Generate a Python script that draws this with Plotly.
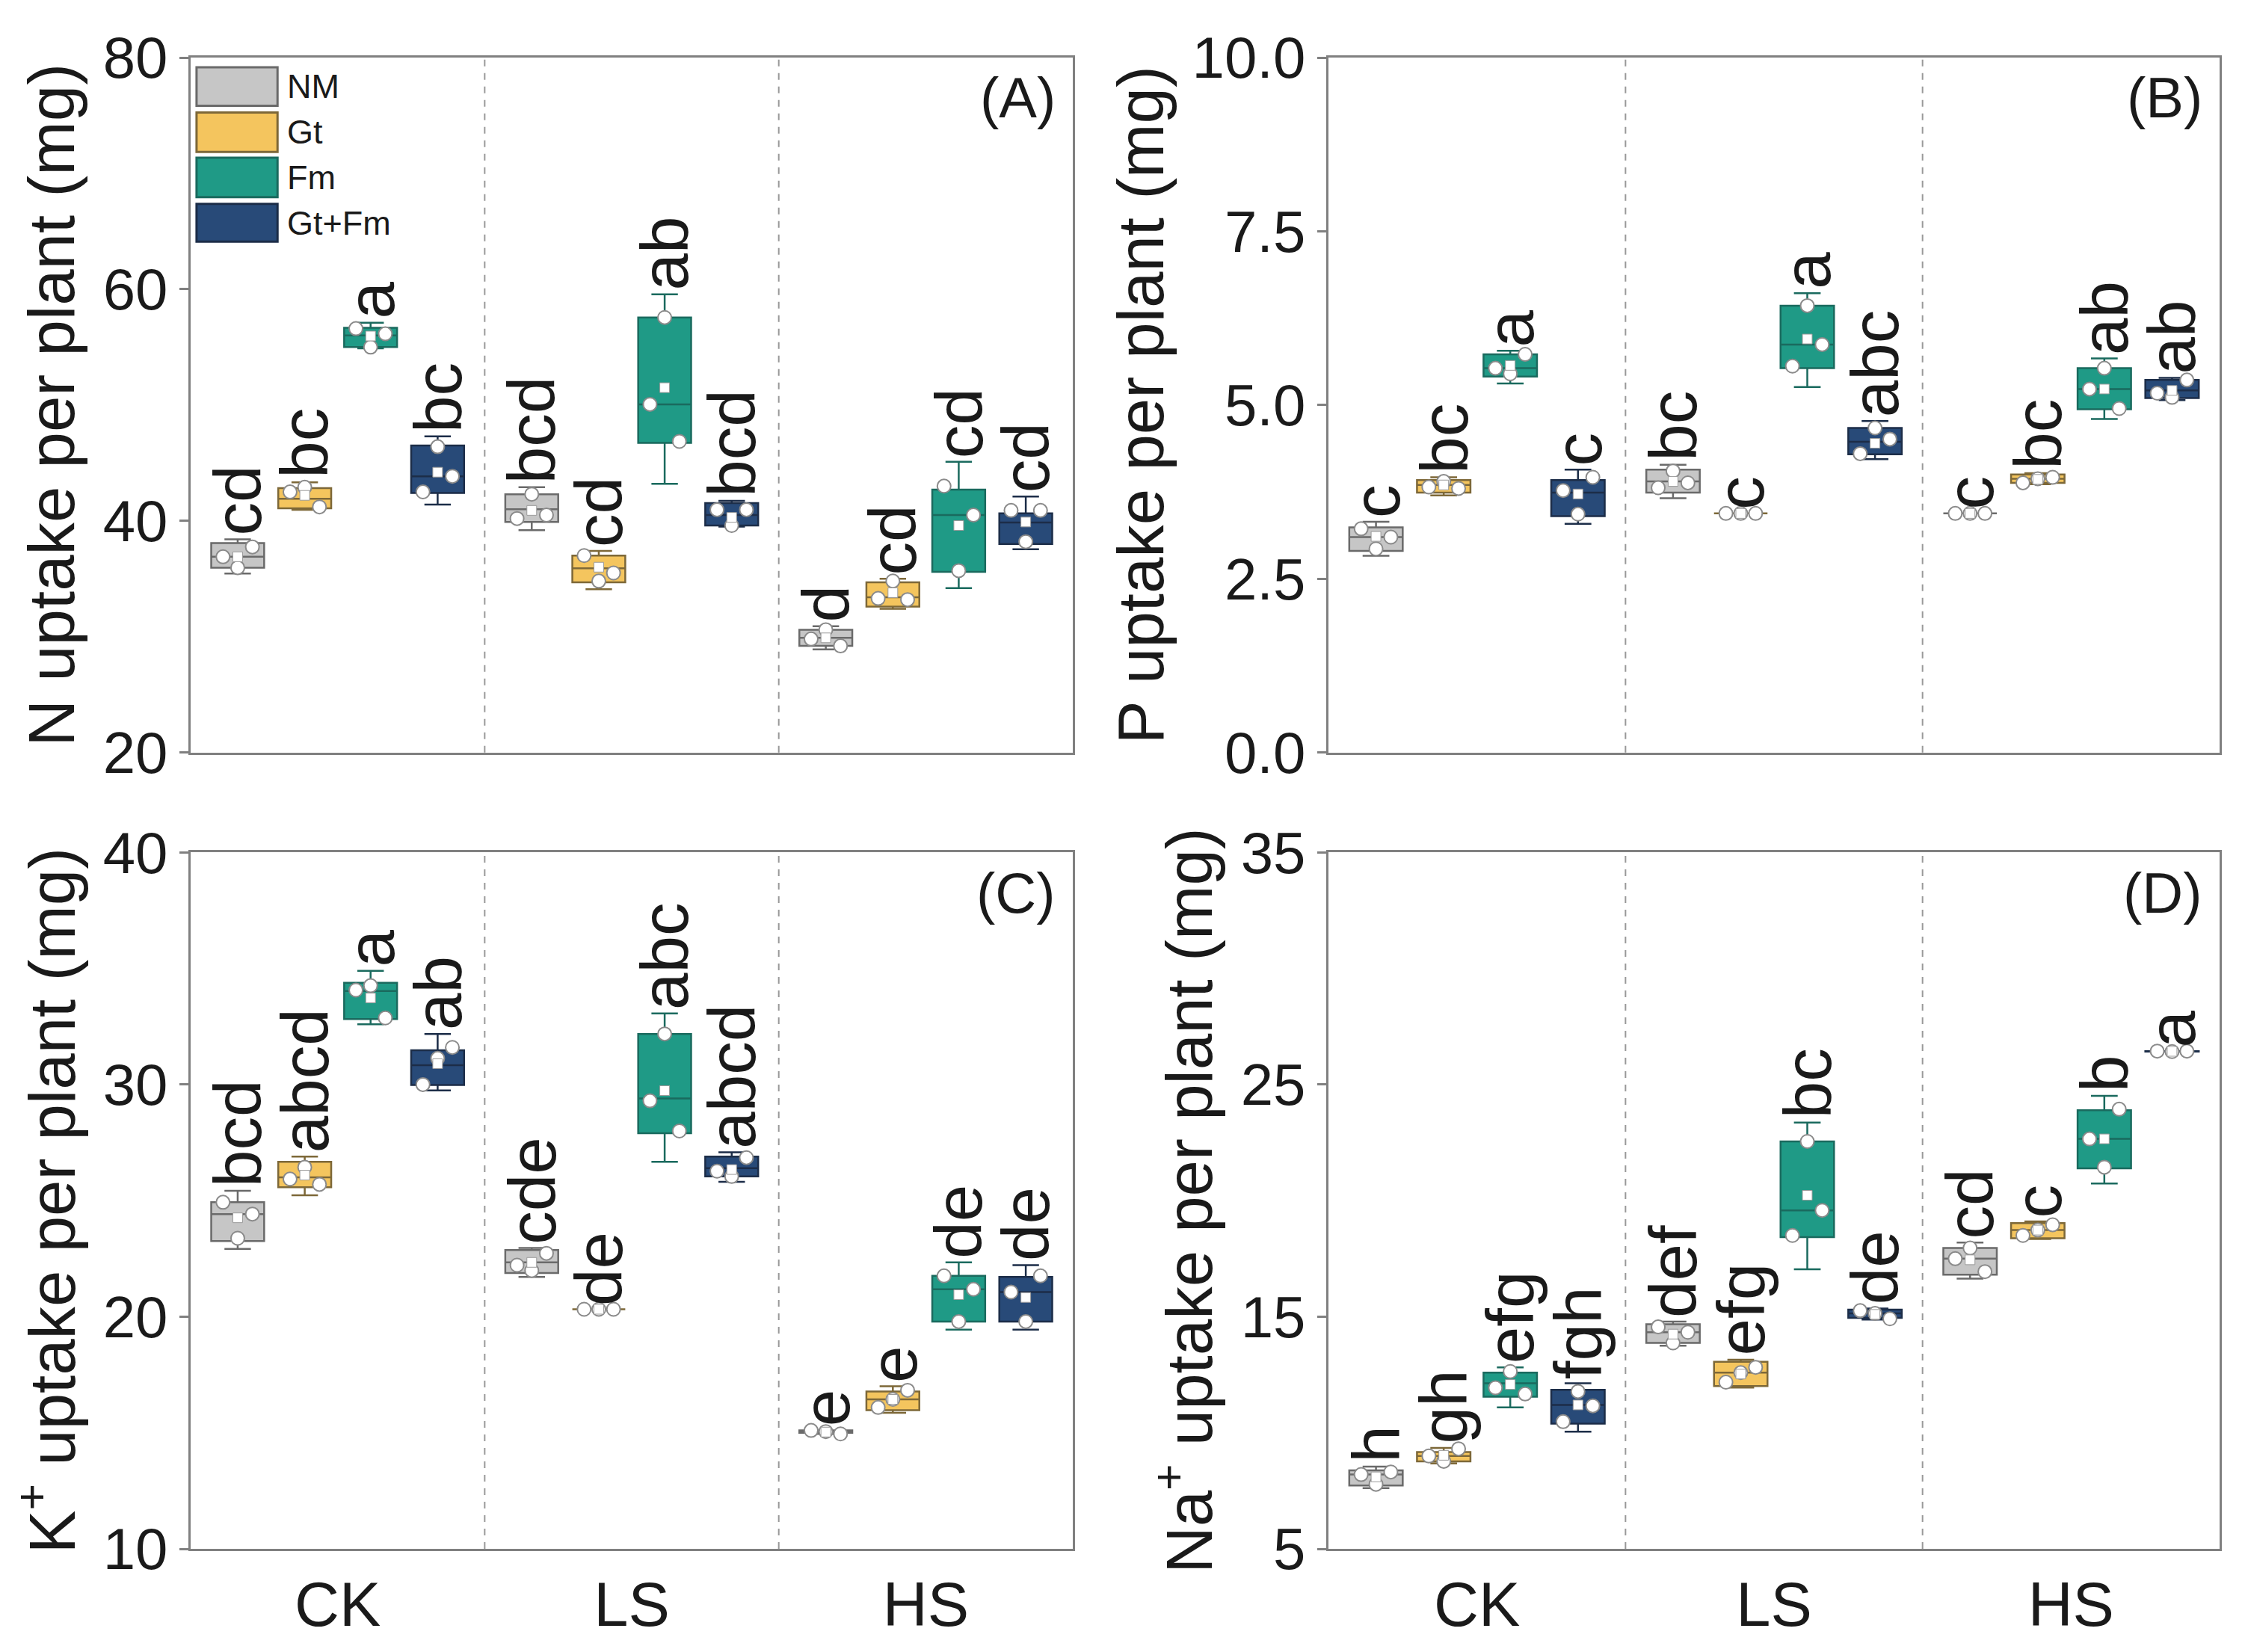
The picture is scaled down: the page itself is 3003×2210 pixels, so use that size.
import plotly.graph_objects as go

# ---------------- data ----------------
groups = ["CK", "LS", "HS"]
treatments = ["NM", "Gt", "Fm", "Gt+Fm"]
# order of the 12 entries in every list: CK(NM,Gt,Fm,Gt+Fm), LS(...), HS(...)

# Panel A: N uptake
N_lo   = [35.45, 40.96, 54.9, 41.4, 39.2, 34.1, 43.2, 39.5, 28.9, 32.4, 34.2, 37.55]
N_q1   = [35.96, 41.09, 55.0, 42.4, 39.9, 34.7, 46.73, 39.6, 29.2, 32.6, 35.6, 38.0]
N_med  = [36.9, 41.9, 56.0, 43.85, 41.0, 35.9, 50.06, 40.5, 29.9, 33.4, 40.5, 39.85]
N_q3   = [38.08, 42.82, 56.67, 46.5, 42.3, 37.0, 57.56, 41.54, 30.6, 34.7, 42.7, 40.65]
N_hi   = [38.4, 43.33, 57.1, 47.3, 42.9, 37.4, 59.55, 41.73, 30.9, 35.0, 45.1, 42.1]
N_mean = [36.9, 42.2, 55.96, 44.2, 40.9, 36.0, 51.5, 40.3, 29.9, 33.8, 39.6, 39.9]
N_reps = [[36.9, 35.96, 37.75], [42.5, 42.9, 41.2], [56.6, 55.0, 56.15], [42.5, 46.4, 43.85],
          [40.2, 42.3, 40.5], [37.0, 34.8, 35.5], [50.06, 57.56, 46.86], [40.96, 39.6, 40.96],
          [29.8, 30.6, 29.2], [33.3, 34.8, 33.2], [43.0, 35.7, 40.5], [40.9, 38.2, 40.9]]
N_letters = ["cd", "bc", "a", "bc", "bcd", "cd", "ab", "bcd", "d", "cd", "cd", "cd"]

# Panel B: P uptake
P_lo   = [2.83, 3.70, 5.31, 3.29, 3.66, 3.44, 5.26, 4.22, 3.44, 3.86, 4.80, 5.07]
P_q1   = [2.90, 3.74, 5.41, 3.40, 3.74, 3.44, 5.53, 4.29, 3.44, 3.88, 4.94, 5.10]
P_med  = [3.10, 3.85, 5.53, 3.74, 3.90, 3.44, 5.87, 4.47, 3.44, 3.94, 5.23, 5.21]
P_q3   = [3.24, 3.92, 5.73, 3.92, 4.07, 3.44, 6.43, 4.67, 3.44, 4.00, 5.53, 5.36]
P_hi   = [3.32, 3.96, 5.78, 4.07, 4.14, 3.44, 6.61, 4.77, 3.44, 4.02, 5.67, 5.39]
P_mean = [3.11, 3.85, 5.57, 3.72, 3.90, 3.44, 5.95, 4.45, 3.44, 3.93, 5.23, 5.21]
P_reps = [[3.22, 2.93, 3.10], [3.82, 3.90, 3.80], [5.53, 5.45, 5.73], [3.77, 3.43, 3.96],
          [3.81, 4.05, 3.88], [3.44, 3.44, 3.44], [5.56, 6.43, 5.87], [4.30, 4.67, 4.51],
          [3.44, 3.44, 3.44], [3.88, 3.94, 3.96], [5.23, 5.53, 4.95], [5.17, 5.11, 5.36]]
P_letters = ["c", "bc", "a", "c", "bc", "c", "a", "abc", "c", "bc", "ab", "ab"]

# Panel C: K+ uptake
K_lo   = [22.92, 25.23, 32.6, 29.75, 21.71, 20.32, 26.67, 25.81, 14.95, 15.86, 19.44, 19.44]
K_q1   = [23.26, 25.58, 32.82, 29.98, 21.88, 20.32, 27.9, 26.04, 15.0, 15.97, 19.79, 19.79]
K_med  = [24.42, 26.0, 34.03, 30.83, 22.34, 20.32, 29.4, 26.4, 15.05, 16.44, 21.18, 21.06]
K_q3   = [24.93, 26.67, 34.38, 31.48, 22.87, 20.32, 32.18, 26.9, 15.1, 16.78, 21.76, 21.71]
K_hi   = [25.42, 26.9, 34.9, 32.18, 22.96, 20.32, 33.06, 27.08, 15.1, 17.0, 22.34, 22.22]
K_mean = [24.26, 26.1, 33.73, 30.9, 22.34, 20.32, 29.74, 26.34, 15.03, 16.44, 20.95, 20.83]
K_reps = [[24.93, 23.38, 24.42], [25.93, 26.44, 25.7], [34.07, 34.26, 32.87], [30.0, 31.13, 31.6],
          [22.22, 21.99, 22.73], [20.32, 20.32, 20.32], [29.3, 32.18, 28.0], [26.27, 26.04, 26.85],
          [15.1, 15.05, 14.95], [16.09, 16.44, 16.83], [21.76, 19.79, 21.18], [21.06, 19.79, 21.76]]
K_letters = ["bcd", "abcd", "a", "ab", "cde", "de", "abc", "abcd", "e", "e", "de", "de"]

# Panel D: Na+ uptake
Na_lo   = [7.62, 8.68, 11.09, 10.05, 13.75, 11.95, 17.04, 14.88, 16.64, 18.35, 20.74, 26.42]
Na_q1   = [7.73, 8.77, 11.55, 10.39, 13.87, 12.01, 18.43, 14.95, 16.81, 18.38, 21.39, 26.42]
Na_med  = [8.2, 9.0, 12.13, 11.2, 14.33, 12.59, 19.58, 15.14, 17.5, 18.73, 22.66, 26.44]
Na_q3   = [8.38, 9.17, 12.59, 11.85, 14.68, 13.06, 22.55, 15.3, 17.96, 19.03, 23.89, 26.44]
Na_hi   = [8.54, 9.35, 12.82, 12.13, 14.79, 13.15, 23.36, 15.35, 18.19, 19.1, 24.51, 26.44]
Na_mean = [8.1, 9.03, 12.08, 11.2, 14.25, 12.53, 20.23, 15.1, 17.45, 18.73, 22.66, 26.43]
Na_reps = [[8.2, 7.78, 8.31], [9.0, 8.77, 9.31], [11.94, 12.64, 11.67], [10.48, 11.78, 11.16],
           [14.56, 13.87, 14.33], [12.18, 12.59, 12.82], [18.5, 22.55, 19.58], [15.26, 15.14, 14.91],
           [17.5, 17.96, 16.94], [18.5, 18.73, 18.96], [22.66, 21.44, 23.94], [26.44, 26.42, 26.44]]
Na_letters = ["h", "gh", "efg", "fgh", "def", "efg", "bc", "de", "cd", "c", "b", "a"]

# ---------------- style ----------------
FILL = ["#c6c6c6", "#f4c55e", "#1f9a86", "#284a78"]
EDGE = ["#6a6a6a", "#7d6838", "#1a6a5e", "#1c2d48"]
FONT = "Liberation Sans, Arial, sans-serif"
TXT = "#1a1a1a"
FRAME = "#808080"
OFFS = [-0.34, -0.112, 0.112, 0.34]
BOXW = 0.18
REP_DX = [-0.05, 0.0, 0.05]

panels = [
    dict(lo=N_lo, q1=N_q1, med=N_med, q3=N_q3, hi=N_hi, mean=N_mean, reps=N_reps, let=N_letters,
         rng=[20, 80], tv=[20, 40, 60, 80], tt=["20", "40", "60", "80"],
         title="N uptake per plant (mg)", tag="(A)"),
    dict(lo=P_lo, q1=P_q1, med=P_med, q3=P_q3, hi=P_hi, mean=P_mean, reps=P_reps, let=P_letters,
         rng=[0, 10], tv=[0, 2.5, 5, 7.5, 10], tt=["0.0", "2.5", "5.0", "7.5", "10.0"],
         title="P uptake per plant (mg)", tag="(B)"),
    dict(lo=K_lo, q1=K_q1, med=K_med, q3=K_q3, hi=K_hi, mean=K_mean, reps=K_reps, let=K_letters,
         rng=[10, 40], tv=[10, 20, 30, 40], tt=["10", "20", "30", "40"],
         title="K<sup>+</sup> uptake per plant (mg)", tag="(C)"),
    dict(lo=Na_lo, q1=Na_q1, med=Na_med, q3=Na_q3, hi=Na_hi, mean=Na_mean, reps=Na_reps, let=Na_letters,
         rng=[5, 35], tv=[5, 15, 25, 35], tt=["5", "15", "25", "35"],
         title="Na<sup>+</sup> uptake per plant (mg)", tag="(D)"),
]

XDOM = [[0.0, 0.4348], [0.5608, 1.0], [0.0, 0.4348], [0.5608, 1.0]]
YDOM = [[0.534, 1.0], [0.534, 1.0], [0.0, 0.467], [0.0, 0.467]]

fig = go.Figure()
annotations = []
shapes = []
layout = {}

for p, P in enumerate(panels):
    sfx = "" if p == 0 else str(p + 1)
    xr, yr = "x" + sfx, "y" + sfx
    for t in range(4):
        idx = [g * 4 + t for g in range(3)]
        xs = [g + 1 + OFFS[t] for g in range(3)]
        fig.add_trace(go.Box(
            x=xs, q1=[P["q1"][i] for i in idx], median=[P["med"][i] for i in idx],
            q3=[P["q3"][i] for i in idx], lowerfence=[P["lo"][i] for i in idx],
            upperfence=[P["hi"][i] for i in idx], width=BOXW, whiskerwidth=0.5,
            fillcolor=FILL[t], line=dict(color=EDGE[t], width=2.5), boxpoints=False,
            hoverinfo="skip", xaxis=xr, yaxis=yr, showlegend=False))
    # replicate points and means
    rx, ry, mx, my = [], [], [], []
    for i in range(12):
        g, t = divmod(i, 4)
        c = g + 1 + OFFS[t]
        for k, v in enumerate(P["reps"][i]):
            rx.append(c + REP_DX[k]); ry.append(v)
        mx.append(c); my.append(P["mean"][i])
        top = max(P["hi"][i], max(P["reps"][i]))
        annotations.append(dict(x=c, y=top, xref=xr, yref=yr, text=P["let"][i], textangle=-90,
                                xanchor="center", yanchor="bottom", yshift=3, showarrow=False,
                                font=dict(family=FONT, size=89, color=TXT)))
    fig.add_trace(go.Scatter(x=rx, y=ry, mode="markers", xaxis=xr, yaxis=yr, hoverinfo="skip",
                             marker=dict(symbol="circle", size=18, color="white",
                                         line=dict(color="#8a8a8a", width=2)), showlegend=False))
    fig.add_trace(go.Scatter(x=mx, y=my, mode="markers", xaxis=xr, yaxis=yr, hoverinfo="skip",
                             marker=dict(symbol="square", size=13, color="white",
                                         line=dict(color="#9a9a9a", width=1)), showlegend=False))
    # dashed separators
    for xb in [1.5, 2.5]:
        shapes.append(dict(type="line", xref=xr, yref=yr + " domain", x0=xb, x1=xb, y0=0, y1=1,
                           line=dict(color="#999999", width=2, dash="dash")))
    # panel tag
    annotations.append(dict(x=0.982, y=0.99, xref=xr + " domain", yref=yr + " domain", text=P["tag"],
                            xanchor="right", yanchor="top", showarrow=False,
                            font=dict(family=FONT, size=76, color=TXT)))
    bottom = p >= 2
    layout["xaxis" + sfx] = dict(domain=XDOM[p], anchor=yr, range=[0.5, 3.5], type="linear",
                                 tickvals=[1, 2, 3], ticktext=groups, showticklabels=bottom,
                                 ticks="",
                                 tickfont=dict(family=FONT, size=83, color=TXT), automargin=False,
                                 showline=True, mirror=True, linecolor=FRAME, linewidth=3,
                                 showgrid=False, zeroline=False, fixedrange=True)
    layout["yaxis" + sfx] = dict(domain=YDOM[p], anchor=xr, range=P["rng"], tickvals=P["tv"],
                                 ticktext=P["tt"], ticks="outside", ticklen=12, tickwidth=3,
                                 tickcolor=FRAME, tickfont=dict(family=FONT, size=78, color=TXT),
                                 title=dict(text=P["title"], font=dict(family=FONT, size=87, color=TXT),
                                            standoff=10), automargin=False,
                                 showline=True, mirror=True, linecolor=FRAME, linewidth=3,
                                 showgrid=False, zeroline=False, fixedrange=True)

# manual legend in panel A
leg_top = [0.9861, 0.9209, 0.8558, 0.7895]
leg_bot = [0.9306, 0.8643, 0.7991, 0.7350]
for t in range(4):
    shapes.append(dict(type="rect", xref="x domain", yref="y domain", x0=0.0067, x1=0.0985,
                       y0=leg_bot[t], y1=leg_top[t], fillcolor=FILL[t],
                       line=dict(color=EDGE[t], width=3)))
    annotations.append(dict(x=0.108, y=(leg_top[t] + leg_bot[t]) / 2, xref="x domain", yref="y domain",
                            text=treatments[t], xanchor="left", yanchor="middle", showarrow=False,
                            font=dict(family=FONT, size=45, color=TXT)))

fig.update_layout(width=3003, height=2210, margin=dict(l=247, r=42, t=69, b=146),
                  paper_bgcolor="white", plot_bgcolor="white", showlegend=False,
                  boxmode="overlay", annotations=annotations, shapes=shapes, **layout)

fig.write_html("out.html")
